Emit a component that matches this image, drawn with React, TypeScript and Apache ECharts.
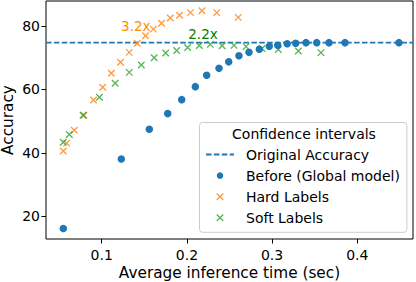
import React, { useEffect, useRef } from "react";
import * as echarts from "echarts";

// ---- data ----
const beforeX = [0.0549, 0.123, 0.1559, 0.1775, 0.1939, 0.2099, 0.2232, 0.2377, 0.2491, 0.2611, 0.2729, 0.285, 0.2967, 0.3066, 0.3178, 0.3277, 0.3398, 0.3524, 0.3668, 0.3856, 0.4489];
const beforeY = [16.2, 38.1, 47.5, 52.4, 56.8, 60.9, 64.5, 66.7, 68.7, 70.65, 71.7, 72.7, 73.6, 73.9, 74.4, 74.55, 74.75, 74.75, 74.75, 74.75, 74.75];

const hardX = [0.0549, 0.0589, 0.0678, 0.0792, 0.0904, 0.1012, 0.1113, 0.1221, 0.1323, 0.1417, 0.1514, 0.1606, 0.1702, 0.1805, 0.1914, 0.2042, 0.2177, 0.235, 0.2603];
const hardY = [40.6, 43.1, 47.15, 51.9, 56.7, 60.7, 65.1, 68.6, 71.7, 74.55, 76.9, 79.0, 80.85, 82.5, 83.4, 84.2, 84.8, 84.2, 82.7];

const softX = [0.0549, 0.062, 0.0781, 0.0974, 0.1158, 0.1323, 0.1465, 0.1616, 0.1751, 0.188, 0.2009, 0.2146, 0.2275, 0.2414, 0.2553, 0.2694, 0.2881, 0.3073, 0.3308, 0.3574];
const softY = [43.4, 45.8, 51.9, 57.55, 61.95, 65.4, 67.7, 70.0, 71.5, 72.3, 73.2, 73.85, 74.2, 73.75, 73.9, 73.5, 72.9, 72.6, 72.1, 71.6];

const originalAccuracy = 74.75;
const xRange = [0.03462, 0.4654];
const yRange = [12.91, 87.87];
const xTicks = [0.1, 0.2, 0.3, 0.4];
const yTicks = [20, 40, 60, 80];

const hardAnnotation = { text: "3.2x", x: 0.1227, y: 79.9 };
const softAnnotation = { text: "2.2x", x: 0.2016, y: 77.4 };

const seriesNames = ["Original Accuracy", "Before (Global model)", "Hard Labels", "Soft Labels"];

const FONT = "DejaVu Sans";
const BLUE = "#1f77b4";
const ORANGE = "#ff7f0e";
const GREEN = "#2ca02c";
const CROSS = "path://M0,0L10,10M10,0L0,10";

const zip = (xs: number[], ys: number[]) => xs.map((x, i) => [x, ys[i]]);

const annotationLabel = (text: string, color: string) => ({
  show: true,
  position: "inside",
  align: "left",
  verticalAlign: "middle",
  formatter: text,
  fontFamily: FONT,
  fontSize: 13.5,
  color,
});

export default function App() {
  const ref = useRef<HTMLDivElement>(null);
  useEffect(() => {
    if (!ref.current) return;
    const chart = echarts.init(ref.current, undefined, { renderer: "svg" });
    chart.setOption({
      animation: false,
      grid: {
        left: 46,
        right: 3,
        top: 1,
        bottom: 43,
        containLabel: false,
        outerBoundsMode: "none",
        show: true,
        borderColor: "#000",
        borderWidth: 1,
        backgroundColor: "transparent",
      },
      xAxis: {
        type: "value",
        min: xRange[0],
        max: xRange[1],
        name: "Average inference time (sec)",
        nameLocation: "middle",
        nameGap: 26,
        nameMoveOverlap: false,
        nameTextStyle: { fontFamily: FONT, fontSize: 15.3, color: "#000" },
        axisLine: { show: false },
        axisTick: { show: true, length: 4.5, customValues: xTicks, lineStyle: { color: "#000", width: 1 } },
        axisLabel: { customValues: xTicks, fontFamily: FONT, fontSize: 14, color: "#000", margin: 8.5 },
        splitLine: { show: false },
      },
      yAxis: {
        type: "value",
        min: yRange[0],
        max: yRange[1],
        name: "Accuracy",
        nameLocation: "middle",
        nameGap: 30.5,
        nameMoveOverlap: false,
        nameTextStyle: { fontFamily: FONT, fontSize: 15.3, color: "#000" },
        axisLine: { show: false },
        axisTick: { show: true, length: 4.5, customValues: yTicks, lineStyle: { color: "#000", width: 1 } },
        axisLabel: { customValues: yTicks, fontFamily: FONT, fontSize: 14, color: "#000", margin: 6 },
        splitLine: { show: false },
      },
      legend: {
        orient: "vertical",
        left: 199.5,
        top: 122.5,
        padding: [24.5, 7, 7, 5.5],
        itemWidth: 28,
        itemHeight: 6.5,
        itemGap: 6.1,
        backgroundColor: "rgba(255,255,255,0.8)",
        borderColor: "#cccccc",
        borderWidth: 1,
        borderRadius: 3,
        selectedMode: false,
        textStyle: { fontFamily: FONT, fontSize: 14, color: "#000", lineHeight: 15, padding: [0, 0, 0, 7] },
        data: [
          { name: seriesNames[0], itemStyle: { opacity: 0 } },
          { name: seriesNames[1] },
          { name: seriesNames[2], itemStyle: { color: ORANGE, borderColor: ORANGE, borderWidth: 1.3 } },
          { name: seriesNames[3], itemStyle: { color: GREEN, borderColor: GREEN, borderWidth: 1.3 } },
        ],
      },
      graphic: [
        {
          type: "text",
          z: 100,
          x: 304,
          y: 134,
          style: {
            text: "Confidence intervals",
            fontFamily: FONT,
            fontSize: 14,
            fill: "#000",
            textAlign: "center",
            textVerticalAlign: "middle",
          },
        },
      ],
      series: [
        {
          name: seriesNames[0],
          type: "line",
          data: [
            [xRange[0], originalAccuracy],
            [xRange[1], originalAccuracy],
          ],
          symbol: "none",
          showSymbol: false,
          silent: true,
          z: 1,
          lineStyle: { color: BLUE, width: 1.8, type: [5.5, 2.4] },
          itemStyle: { color: BLUE },
        },
        {
          name: seriesNames[1],
          type: "scatter",
          data: zip(beforeX, beforeY),
          symbol: "circle",
          symbolSize: 7.5,
          silent: true,
          z: 3,
          itemStyle: { color: BLUE, opacity: 1 },
        },
        {
          name: seriesNames[2],
          type: "scatter",
          data: zip(hardX, hardY),
          symbol: CROSS,
          symbolSize: 6.5,
          silent: true,
          z: 2,
          itemStyle: { color: ORANGE, borderColor: ORANGE, borderWidth: 1.3 },
          markPoint: {
            silent: true,
            symbol: "circle",
            symbolSize: 0,
            data: [
              {
                coord: [hardAnnotation.x, hardAnnotation.y],
                label: annotationLabel(hardAnnotation.text, "#ff8c00"),
              },
            ],
          },
        },
        {
          name: seriesNames[3],
          type: "scatter",
          data: zip(softX, softY),
          symbol: CROSS,
          symbolSize: 6.5,
          silent: true,
          z: 2,
          itemStyle: { color: GREEN, borderColor: GREEN, borderWidth: 1.3 },
          markPoint: {
            silent: true,
            symbol: "circle",
            symbolSize: 0,
            data: [
              {
                coord: [softAnnotation.x, softAnnotation.y],
                label: annotationLabel(softAnnotation.text, "#008000"),
              },
            ],
          },
        },
      ],
    });
    return () => chart.dispose();
  }, []);
  return (
    <div
      ref={ref}
      style={{ position: "fixed", left: 0, top: 0, width: 416, height: 282, background: "#fff" }}
    />
  );
}
